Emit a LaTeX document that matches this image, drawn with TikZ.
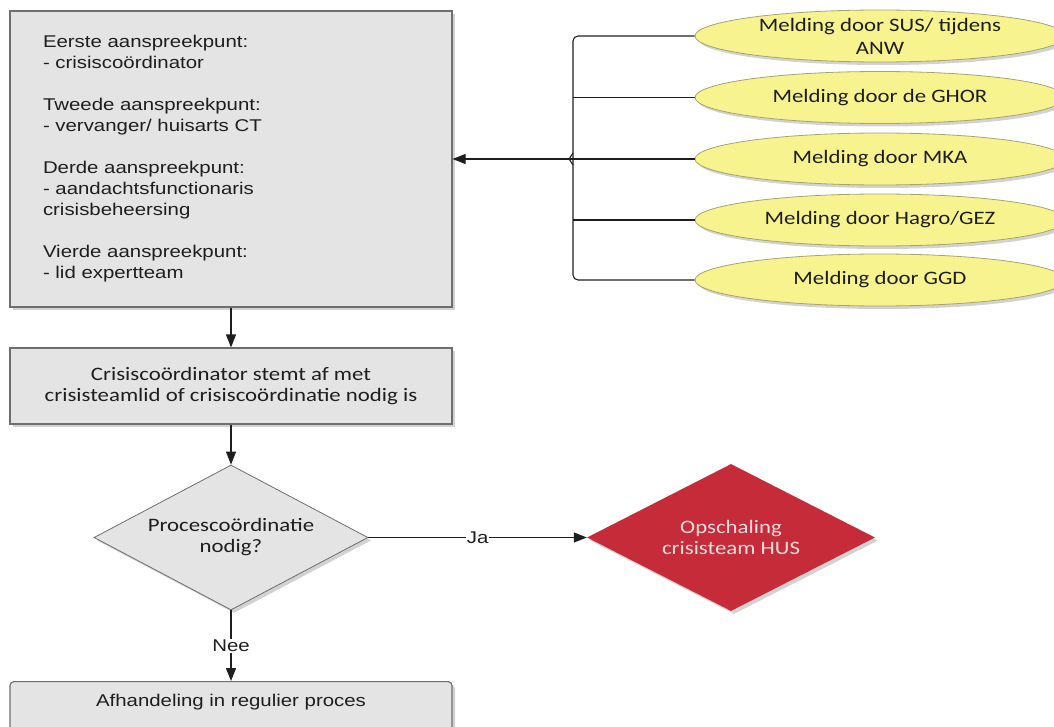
\documentclass[tikz,border=0pt]{standalone}
\usepackage{fontspec}
\setmainfont{Liberation Sans}[FakeStretch=1.2]
\newfontfamily\calfont{Carlito}[FakeStretch=1.2]
\usetikzlibrary{shapes.geometric,arrows.meta,calc,shadows}
\definecolor{boxfill}{HTML}{E4E4E4}
\definecolor{boxedge}{HTML}{6E6E6E}
\definecolor{ellfill}{HTML}{F7F38F}
\definecolor{elledge}{HTML}{A8A46A}
\definecolor{crisisred}{HTML}{C62B3A}
\definecolor{redtext}{HTML}{F5DCDD}
\definecolor{shade}{HTML}{D2D2D2}
\definecolor{ink}{HTML}{1E1E1E}
\begin{document}
\begin{tikzpicture}[x=1pt,y=-1pt,
  every node/.style={inner sep=0pt, text=ink},
  shadowed/.style={drop shadow={shadow xshift=3pt,shadow yshift=-3pt,fill=shade,opacity=1}},
  boxstyle/.style={rectangle, draw=boxedge, fill=boxfill, line width=1.1pt, shadowed},
  arialtext/.style={font=\fontsize{17}{21}\selectfont},
  caltext/.style={font=\calfont\fontsize{19}{21}\selectfont},
  ell/.style={ellipse, draw=elledge, fill=ellfill, line width=0.8pt, minimum width=370pt, minimum height=52pt, shadowed},
  elltext/.style={caltext, align=center, font=\calfont\fontsize{19}{23}\selectfont},
  diam/.style={diamond, shape aspect=1.89, shadowed},
  conn/.style={draw=ink, line width=1.1pt},
  arr/.style={conn, -{Triangle[length=13pt,width=10pt]}},
  lab/.style={fill=white, inner sep=1pt, arialtext}
]
\useasboundingbox (0,0) rectangle (1054,727);

% left column
\node[boxstyle, arialtext, minimum width=442pt, minimum height=296pt, text width=376pt, inner xsep=33pt, align=left] (box1) at (231,159)
 {Eerste aanspreekpunt:\\- crisiscoördinator\\[21pt]Tweede aanspreekpunt:\\- vervanger/ huisarts CT\\[21pt]Derde aanspreekpunt:\\- aandachtsfunctionaris\\crisisbeheersing\\[21pt]Vierde aanspreekpunt:\\- lid expertteam};

\node[boxstyle, caltext, minimum width=442pt, minimum height=76pt, align=center] (box2) at (231,386)
 {Crisiscoördinator stemt af met\\crisisteamlid of crisiscoördinatie nodig is};

\node[diam, draw=boxedge, fill=boxfill, line width=0.8pt, minimum width=274pt, minimum height=145pt, caltext, align=center] (dia) at (231,537.5)
 {Procescoördinatie\\nodig?};

\node[diam, fill=crisisred, minimum width=288pt, minimum height=147pt, caltext, text=redtext, align=center] (red) at (731,537.5)
 {Opschaling\\crisisteam HUS};

\node[boxstyle, rounded corners=4pt, arialtext, anchor=north, minimum width=442pt, text height=12pt, text depth=40pt, inner ysep=13pt] (box3) at (231,681)
 {Afhandeling in regulier proces};

% right column
\node[ell, label={[elltext]center:Melding door SUS/ tijdens\\ANW}] (e1) at (880,36) {};
\node[ell, label={[elltext]center:Melding door de GHOR}] (e2) at (880,97.5) {};
\node[ell, label={[elltext]center:Melding door MKA}] (e3) at (880,159) {};
\node[ell, label={[elltext]center:Melding door Hagro/GEZ}] (e4) at (880,220) {};
\node[ell, label={[elltext]center:Melding door GGD}] (e5) at (880,280) {};

\coordinate (jx) at (573,159);

% connectors
\draw[conn, rounded corners=5pt] (e1.west) -| (jx |- e5.west) -- (e5.west);
\draw[conn] (e2.west) -- (e2.west -| jx);
\draw[conn] (e4.west) -- (e4.west -| jx);
\draw[conn, line join=round] ($(jx)+(0,-6)$) -- ($(jx)+(-4,0)$) -- ($(jx)+(0,6)$);
\draw[arr] (e3.west) -- (box1.east);

\draw[arr] (box1) -- (box2);
\draw[arr] (box2) -- (dia);
\draw[arr] (dia) -- node[lab] (nee) {Nee} (box3);
\draw[arr] (dia) -- node[lab] (ja) {Ja} (red);
\end{tikzpicture}
\end{document}
